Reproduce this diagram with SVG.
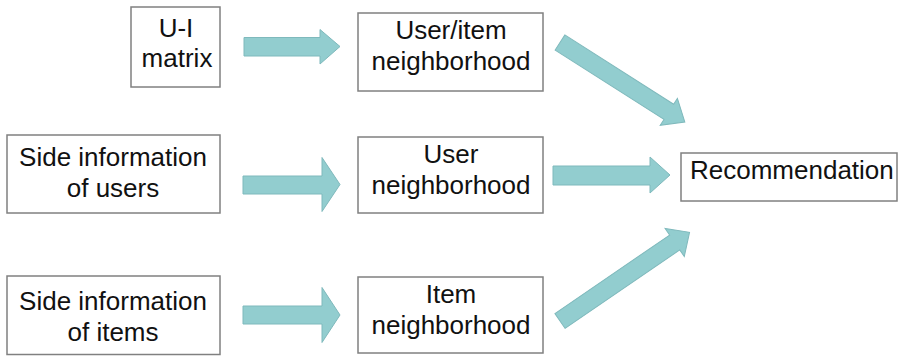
<svg xmlns="http://www.w3.org/2000/svg" width="900" height="356" viewBox="0 0 900 356">
  <style>
    .box { fill: #ffffff; stroke: #808080; stroke-width: 1.5; }
    .lbl { font-family: "Liberation Sans", Arial, sans-serif; font-size: 26px; fill: #111111; text-anchor: middle; }
    .arrow { fill: #92cdcf; stroke: #7fb9bc; stroke-width: 1; stroke-linejoin: miter; }
  </style>
  <rect width="900" height="356" fill="#ffffff"/>

  <g id="connectors">
    <!-- inputs to neighborhoods -->
    <polygon class="arrow" points="244,37.5 320,37.5 320,29.5 340,46.5 320,64 320,56 244,56"/>
    <polygon class="arrow" points="243,176 322,176 322,157.5 340,184.5 322,211.5 322,194 243,194"/>
    <polygon class="arrow" points="243,306 322,306 322,287.5 340,315 322,342.5 322,324 243,324"/>
    <!-- neighborhoods to recommendation -->
    <polygon class="arrow" transform="translate(560,42.5) rotate(32.5)" points="0,-9 129,-9 129,-16 148,0 129,16 129,9 0,9"/>
    <polygon class="arrow" points="553,166 650,166 650,157 670,175 650,193 650,185 553,185"/>
    <polygon class="arrow" transform="translate(560,321) rotate(-34.4)" points="0,-9 139,-9 139,-17 157,0 139,17 139,9 0,9"/>
  </g>

  <g id="ui-matrix">
    <rect class="box" x="131" y="7" width="89" height="80"/>
    <text class="lbl" x="176" y="37">U-I</text>
    <text class="lbl" x="177" y="67">matrix</text>
  </g>

  <g id="side-users">
    <rect class="box" x="7" y="135" width="213" height="78"/>
    <text class="lbl" x="113" y="166">Side information</text>
    <text class="lbl" x="113" y="197">of users</text>
  </g>

  <g id="side-items">
    <rect class="box" x="7" y="276" width="213" height="78.5"/>
    <text class="lbl" x="113" y="310">Side information</text>
    <text class="lbl" x="113" y="341">of items</text>
  </g>

  <g id="useritem-neighborhood">
    <rect class="box" x="358" y="13" width="185" height="78"/>
    <text class="lbl" x="451" y="39">User/item</text>
    <text class="lbl" x="451" y="70">neighborhood</text>
  </g>

  <g id="user-neighborhood">
    <rect class="box" x="358" y="137" width="185" height="76"/>
    <text class="lbl" x="451" y="163">User</text>
    <text class="lbl" x="451" y="194">neighborhood</text>
  </g>

  <g id="item-neighborhood">
    <rect class="box" x="358" y="277" width="185" height="76"/>
    <text class="lbl" x="451" y="303">Item</text>
    <text class="lbl" x="451" y="334">neighborhood</text>
  </g>

  <g id="recommendation">
    <rect class="box" x="681" y="153" width="216" height="48"/>
    <text class="lbl" x="690" y="179" style="text-anchor:start">Recommendation</text>
  </g>
</svg>
